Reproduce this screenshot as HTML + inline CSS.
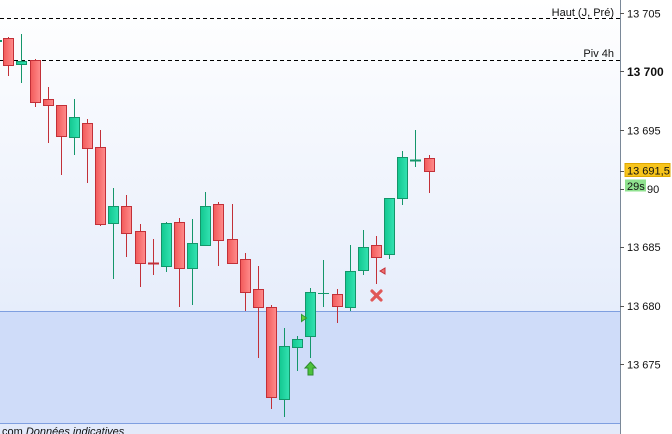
<!DOCTYPE html>
<html><head><meta charset="utf-8"><style>
html,body{margin:0;padding:0;background:#fff;}
svg{display:block;font-family:"Liberation Sans",Arial,sans-serif;}
</style></head><body>
<svg width="672" height="434" viewBox="0 0 672 434" xmlns="http://www.w3.org/2000/svg">
<defs>
<linearGradient id="bg" x1="0" y1="0" x2="0" y2="1">
<stop offset="0" stop-color="#ffffff"/><stop offset="1" stop-color="#e6edfb"/>
</linearGradient>
<linearGradient id="rd" x1="0" y1="0" x2="1" y2="0">
<stop offset="0" stop-color="#f25a5a"/><stop offset="1" stop-color="#ff8c8c"/>
</linearGradient>
<linearGradient id="gr" x1="0" y1="0" x2="1" y2="0">
<stop offset="0" stop-color="#12c890"/><stop offset="1" stop-color="#34e2b2"/>
</linearGradient>
</defs>
<rect x="0" y="0" width="620" height="311" fill="url(#bg)"/>
<rect x="0" y="311" width="620" height="112" fill="#cfdcf9"/>
<rect x="0" y="423" width="620" height="11" fill="#e3eafa"/>
<line x1="0" y1="311.5" x2="620" y2="311.5" stroke="#7f9fe0" stroke-width="1"/>
<line x1="0" y1="423.5" x2="620" y2="423.5" stroke="#7f9fe0" stroke-width="1"/>
<rect x="620" y="0" width="52" height="434" fill="#ffffff"/>
<line x1="620.5" y1="0" x2="620.5" y2="434" stroke="#7a8898" stroke-width="1"/>

<line x1="0" y1="18.5" x2="620" y2="18.5" stroke="#000" stroke-dasharray="4,3"/>
<line x1="0" y1="60.5" x2="620" y2="60.5" stroke="#000" stroke-dasharray="4,3"/>
<text x="614" y="16" font-size="11" text-anchor="end" fill="#111">Haut (J, Pré)</text>
<text x="614" y="57" font-size="11" text-anchor="end" fill="#111">Piv 4h</text>

<g stroke="#555" stroke-width="1">
<line x1="620" y1="13.5" x2="624" y2="13.5"/>
<line x1="620" y1="71.5" x2="624" y2="71.5"/>
<line x1="620" y1="130.5" x2="624" y2="130.5"/>
<line x1="620" y1="171.5" x2="624" y2="171.5"/>
<line x1="620" y1="189.5" x2="624" y2="189.5"/>
<line x1="620" y1="247.5" x2="624" y2="247.5"/>
<line x1="620" y1="306.5" x2="624" y2="306.5"/>
<line x1="620" y1="364.5" x2="624" y2="364.5"/>
</g>
<g font-size="11" fill="#111">
<text x="627" y="17.5">13 705</text>
<text x="627" y="76" font-size="12" font-weight="bold">13 700</text>
<text x="627" y="134.5">13 695</text>
<text x="627" y="251">13 685</text>
<text x="627" y="310">13 680</text>
<text x="627" y="368.5">13 675</text>
<text x="647" y="193">90</text>
</g>
<rect x="625" y="163.5" width="45" height="13" fill="#f7c41c" stroke="#e0a800" stroke-width="1"/>
<text x="627" y="174.5" font-size="11" fill="#111">13 691,5</text>
<rect x="625" y="179.5" width="21" height="12" fill="#8fe28f"/>
<text x="627" y="190" font-size="11" fill="#111">29s</text>

<line x1="0" y1="41" x2="2" y2="41" stroke="#14966a" stroke-width="2"/>

<g stroke-width="1">
<g stroke="#c23038"><line x1="8.5" y1="37" x2="8.5" y2="76"/><rect x="3.5" y="38.5" width="10" height="27" fill="url(#rd)"/></g>
<g stroke="#14966a"><line x1="21.5" y1="34" x2="21.5" y2="83"/><rect x="16.5" y="61.5" width="10" height="3" fill="url(#gr)"/></g>
<g stroke="#c23038"><line x1="35.5" y1="59" x2="35.5" y2="107"/><rect x="30.5" y="60.5" width="10" height="42" fill="url(#rd)"/></g>
<g stroke="#c23038"><line x1="48.5" y1="87" x2="48.5" y2="143"/><rect x="43.5" y="99.5" width="10" height="6" fill="url(#rd)"/></g>
<g stroke="#c23038"><line x1="61.5" y1="105" x2="61.5" y2="175"/><rect x="56.5" y="105.5" width="10" height="31" fill="url(#rd)"/></g>
<g stroke="#14966a"><line x1="74.5" y1="99" x2="74.5" y2="155"/><rect x="69.5" y="117.5" width="10" height="20" fill="url(#gr)"/></g>
<g stroke="#c23038"><line x1="87.5" y1="119" x2="87.5" y2="183"/><rect x="82.5" y="123.5" width="10" height="25" fill="url(#rd)"/></g>
<g stroke="#c23038"><line x1="100.5" y1="130" x2="100.5" y2="226"/><rect x="95.5" y="147.5" width="10" height="77" fill="url(#rd)"/></g>
<g stroke="#14966a"><line x1="113.5" y1="188" x2="113.5" y2="279"/><rect x="108.5" y="206.5" width="10" height="17" fill="url(#gr)"/></g>
<g stroke="#c23038"><line x1="126.5" y1="195" x2="126.5" y2="257"/><rect x="121.5" y="206.5" width="10" height="27" fill="url(#rd)"/></g>
<g stroke="#c23038"><line x1="140.5" y1="224" x2="140.5" y2="287"/><rect x="135.5" y="231.5" width="10" height="32" fill="url(#rd)"/></g>
<g stroke="#c23038"><line x1="153.5" y1="239" x2="153.5" y2="275"/><line x1="148" y1="263.5" x2="159" y2="263.5" stroke-width="2"/></g>
<g stroke="#14966a"><line x1="166.5" y1="222" x2="166.5" y2="272"/><rect x="161.5" y="223.5" width="10" height="43" fill="url(#gr)"/></g>
<g stroke="#c23038"><line x1="179.5" y1="218" x2="179.5" y2="307"/><rect x="174.5" y="222.5" width="10" height="46" fill="url(#rd)"/></g>
<g stroke="#14966a"><line x1="192.5" y1="219" x2="192.5" y2="305"/><rect x="187.5" y="243.5" width="10" height="25" fill="url(#gr)"/></g>
<g stroke="#14966a"><line x1="205.5" y1="192" x2="205.5" y2="245"/><rect x="200.5" y="206.5" width="10" height="39" fill="url(#gr)"/></g>
<g stroke="#c23038"><line x1="218.5" y1="202" x2="218.5" y2="266"/><rect x="213.5" y="204.5" width="10" height="36" fill="url(#rd)"/></g>
<g stroke="#c23038"><line x1="232.5" y1="204" x2="232.5" y2="263"/><rect x="227.5" y="239.5" width="10" height="24" fill="url(#rd)"/></g>
<g stroke="#c23038"><line x1="245.5" y1="253" x2="245.5" y2="311"/><rect x="240.5" y="259.5" width="10" height="33" fill="url(#rd)"/></g>
<g stroke="#c23038"><line x1="258.5" y1="266" x2="258.5" y2="358"/><rect x="253.5" y="289.5" width="10" height="18" fill="url(#rd)"/></g>
<g stroke="#c23038"><line x1="271.5" y1="305" x2="271.5" y2="409"/><rect x="266.5" y="307.5" width="10" height="90" fill="url(#rd)"/></g>
<g stroke="#14966a"><line x1="284.5" y1="328" x2="284.5" y2="417"/><rect x="279.5" y="346.5" width="10" height="53" fill="url(#gr)"/></g>
<g stroke="#14966a"><line x1="297.5" y1="336" x2="297.5" y2="371"/><rect x="292.5" y="339.5" width="10" height="8" fill="url(#gr)"/></g>
<g stroke="#14966a"><line x1="310.5" y1="288" x2="310.5" y2="358"/><rect x="305.5" y="292.5" width="10" height="44" fill="url(#gr)"/></g>
<g stroke="#14966a"><line x1="323.5" y1="260" x2="323.5" y2="307"/><line x1="318" y1="293.5" x2="329" y2="293.5"/></g>
<g stroke="#c23038"><line x1="337.5" y1="289" x2="337.5" y2="323"/><rect x="332.5" y="294.5" width="10" height="12" fill="url(#rd)"/></g>
<g stroke="#14966a"><line x1="350.5" y1="245" x2="350.5" y2="311"/><rect x="345.5" y="271.5" width="10" height="36" fill="url(#gr)"/></g>
<g stroke="#14966a"><line x1="363.5" y1="230" x2="363.5" y2="275"/><rect x="358.5" y="247.5" width="10" height="23" fill="url(#gr)"/></g>
<g stroke="#c23038"><line x1="376.5" y1="236" x2="376.5" y2="284"/><rect x="371.5" y="245.5" width="10" height="12" fill="url(#rd)"/></g>
<g stroke="#14966a"><line x1="389.5" y1="198" x2="389.5" y2="259"/><rect x="384.5" y="198.5" width="10" height="56" fill="url(#gr)"/></g>
<g stroke="#14966a"><line x1="402.5" y1="151" x2="402.5" y2="205"/><rect x="397.5" y="157.5" width="10" height="41" fill="url(#gr)"/></g>
<g stroke="#14966a"><line x1="415.5" y1="130" x2="415.5" y2="167"/><line x1="410" y1="160.5" x2="421" y2="160.5" stroke-width="2"/></g>
<g stroke="#c23038"><line x1="429.5" y1="155" x2="429.5" y2="193"/><rect x="424.5" y="158.5" width="10" height="13" fill="url(#rd)"/></g>
</g>

<polygon points="301.5,314.5 306.5,318 301.5,321.5" fill="#6ccc3c" stroke="#2e9a2e" stroke-width="1"/>
<polygon points="310.5,362 316,368 313,368 313,375 308,375 308,368 305,368" fill="#4cc23c" stroke="#2e8a2e" stroke-width="1"/>
<polygon points="380,271 385,268 385,274" fill="#f07070" stroke="#c23038" stroke-width="1"/>
<g stroke="#e05858" stroke-width="3.2" stroke-linecap="round">
<line x1="372" y1="291" x2="381" y2="300"/><line x1="381" y1="291" x2="372" y2="300"/>
</g>

<text x="2" y="435" font-size="11" fill="#111">com <tspan font-style="italic">Données indicatives</tspan></text>
</svg>
</body></html>
